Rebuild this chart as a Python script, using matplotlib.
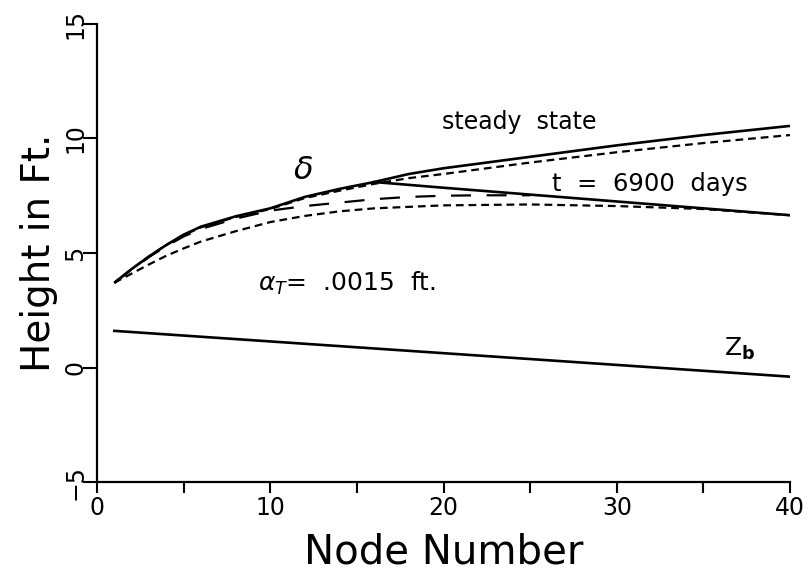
import matplotlib
matplotlib.use("Agg")
import matplotlib.pyplot as plt

# ---- data ----
ss_nodes = [1, 2, 3, 4, 5, 6, 8, 10, 12, 14, 16, 18, 20, 25, 30, 35, 40]
ss_vals = [3.7, 4.3, 4.85, 5.35, 5.8, 6.15, 6.6, 6.95, 7.45, 7.8, 8.1, 8.45, 8.7, 9.2, 9.7, 10.15, 10.55]

ssd_nodes = [1, 2, 3, 4, 5, 6, 8, 10, 12, 14, 16, 18, 20, 25, 30, 35, 40]
ssd_vals = [3.7, 4.3, 4.85, 5.35, 5.78, 6.12, 6.57, 6.92, 7.4, 7.72, 8.02, 8.27, 8.45, 8.95, 9.4, 9.8, 10.15]

t_nodes = [16, 20, 25, 30, 35, 40]
t_vals = [8.1, 7.85, 7.55, 7.25, 6.95, 6.65]

ld_nodes = [1, 2, 3, 4, 5, 6, 8, 10, 12, 14, 16, 18, 20, 22, 24, 25]
ld_vals = [3.7, 4.28, 4.82, 5.3, 5.72, 6.05, 6.5, 6.85, 7.05, 7.2, 7.35, 7.45, 7.5, 7.52, 7.52, 7.52]

lo_nodes = [1, 2, 3, 4, 5, 6, 8, 10, 12, 14, 16, 20, 25, 30, 35, 40]
lo_vals = [3.7, 4.1, 4.5, 4.88, 5.2, 5.5, 5.95, 6.35, 6.62, 6.82, 6.95, 7.08, 7.12, 7.05, 6.92, 6.65]

zb_nodes = [1, 40]
zb_vals = [1.6, -0.4]

x_ticks = [0, 10, 20, 30, 40]
x_minor = [5, 15, 25, 35]
y_ticks = [-5, 0, 5, 10, 15]

# ---- figure ----
fig = plt.figure(figsize=(8.11, 5.74), dpi=100)
ax = fig.add_axes([97/811, 92/574, 693/811, 458/574])

lw = 1.9
ax.plot(ss_nodes, ss_vals, color="black", lw=lw, solid_capstyle="butt")
ax.plot(ssd_nodes, ssd_vals, color="black", lw=1.6, dashes=(3.5, 2.2))
ax.plot(t_nodes, t_vals, color="black", lw=lw)
ax.plot(ld_nodes, ld_vals, color="black", lw=1.6, dashes=(9, 7))
ax.plot(lo_nodes, lo_vals, color="black", lw=1.6, dashes=(3.5, 2.2))
ax.plot(zb_nodes, zb_vals, color="black", lw=lw)

ax.set_xlim(0, 40)
ax.set_ylim(-5, 15)

for s in ["top", "right"]:
    ax.spines[s].set_visible(False)
for s in ["left", "bottom"]:
    ax.spines[s].set_linewidth(1.6)

ax.set_xticks(x_ticks)
ax.set_xticks(x_minor, minor=True)
ax.set_yticks(y_ticks)
ax.tick_params(axis="x", which="both", direction="out", length=8, width=1.5,
               labelsize=17, pad=2)
ax.tick_params(axis="y", which="both", direction="out", length=10, width=1.5,
               labelsize=17, pad=-3)
for lab in ax.get_yticklabels():
    lab.set_rotation(90)
    lab.set_va("center")

ax.set_xlabel("Node Number", fontsize=29, labelpad=9)
ax.set_ylabel("Height in Ft.", fontsize=28, labelpad=4)

ax.text(24.4, 10.7, "steady  state", fontsize=17, ha="center", va="center")
ax.text(31.9, 8.03, "t  =  6900  days", fontsize=17.5, ha="center", va="center")
ax.text(11.9, 8.6, r"$\delta$", fontsize=23, ha="center", va="center")
ax.text(9.3, 3.67, r"$\alpha_T$=  .0015  ft.", fontsize=18, ha="left", va="center")
ax.text(37.1, 0.8, r"Z$_\mathbf{b}$", fontsize=18, ha="center", va="center")

fig.savefig("out.png", dpi=100)
